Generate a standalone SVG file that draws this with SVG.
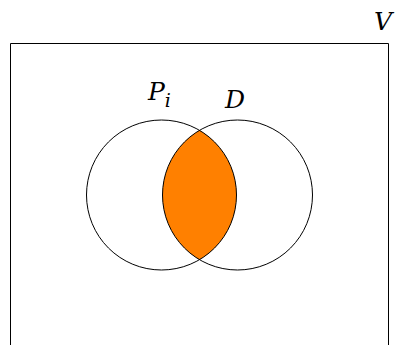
<svg xmlns="http://www.w3.org/2000/svg" width="396" height="345" viewBox="0 0 396 345">
<style>
.t{font-family:"DejaVu Serif","Liberation Serif",serif;font-style:italic;fill:#000}
.c{fill:none;stroke:#000;stroke-width:1}
</style>
<rect width="396" height="345" fill="#fff"/>
<g id="universe">
<path d="M10.5,345 V43.5 H388.5 V345" fill="none" stroke="#000" stroke-width="1"/>
<text class="t" x="374" y="30" font-size="25">V</text>
</g>
<g id="intersection">
<path d="M199.5,130.34 A75,75 0 0 1 199.5,259.66 A75,75 0 0 1 199.5,130.34 Z" fill="#ff8000" stroke="none"/>
</g>
<g id="Pi">
<circle class="c" cx="161.5" cy="195" r="75"/>
<text class="t" x="148" y="100" font-size="25">P<tspan font-size="19" dy="7">i</tspan></text>
</g>
<g id="D">
<circle class="c" cx="237.5" cy="195" r="75"/>
<text class="t" x="225" y="108" font-size="25">D</text>
</g>
<g id="connectors"/>
</svg>
